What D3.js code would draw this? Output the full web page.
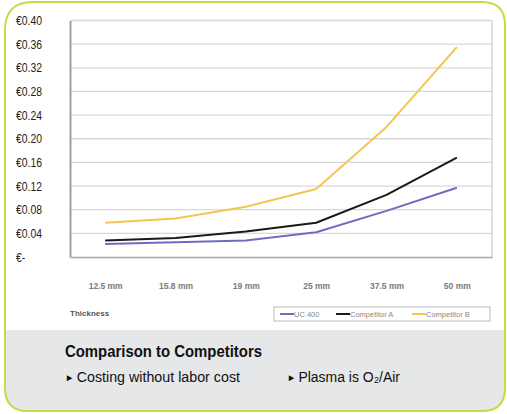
<!DOCTYPE html>
<html>
<head>
<meta charset="utf-8">
<script src="https://cdn.jsdelivr.net/npm/d3@7"></script>
<style>
  body { margin: 0; background: #fff; }
  svg { display: block; }
</style>
</head>
<body>
<svg id="chart" width="507" height="414"></svg>
<script>
// data
const thickness = ["12.5 mm", "15.8 mm", "19 mm", "25 mm", "37.5 mm", "50 mm"];
const uc400 = [0.022, 0.025, 0.028, 0.042, 0.078, 0.117];
const competitorA = [0.028, 0.032, 0.043, 0.058, 0.105, 0.168];
const competitorB = [0.058, 0.065, 0.085, 0.115, 0.220, 0.355];
const yTicks = [0, 0.04, 0.08, 0.12, 0.16, 0.20, 0.24, 0.28, 0.32, 0.36, 0.40];

const series = [
  { name: "UC 400", values: uc400, color: "#6c6cc4" },
  { name: "Competitor A", values: competitorA, color: "#1a1a1a" },
  { name: "Competitor B", values: competitorB, color: "#f3c552" }
];

const svg = d3.select("#chart");
const plotLeft = 70, plotRight = 492, plotTop = 20.5, plotBottom = 257;

// squeeze text horizontally to look like a condensed face
function condense(sel, f) {
  sel.each(function () {
    const w = this.getComputedTextLength();
    d3.select(this).attr("textLength", w * f).attr("lengthAdjust", "spacingAndGlyphs");
  });
}

// gray panel + rounded frame
const clip = svg.append("clipPath").attr("id", "frame");
const framePath = "M 5 30 Q 5 2 33 2 L 482 2 Q 505 2 505 25 L 505 388 Q 505 411 482 411 L 28 411 Q 5 411 5 388 Z";
clip.append("path").attr("d", framePath);
svg.append("rect").attr("x", 0).attr("y", 330).attr("width", 507).attr("height", 90)
  .attr("fill", "#e6e7e8").attr("clip-path", "url(#frame)");
svg.append("path").attr("d", framePath).attr("fill", "none")
  .attr("stroke", "#c6da4c").attr("stroke-width", 2);

const x = d3.scalePoint().domain(thickness).range([plotLeft, plotRight]).padding(0.5);
const y = d3.scaleLinear().domain([0, 0.40]).range([plotBottom, plotTop]);

// gridlines
svg.append("g").selectAll("line").data(yTicks.slice(1)).join("line")
  .attr("x1", plotLeft).attr("x2", plotRight)
  .attr("y1", d => y(d)).attr("y2", d => y(d))
  .attr("stroke", "#d8d8d8").attr("stroke-width", 1.3);
svg.append("line").attr("x1", plotRight).attr("x2", plotRight).attr("y1", plotTop).attr("y2", plotBottom)
  .attr("stroke", "#d4d4d4").attr("stroke-width", 1.5);

// y axis
const yAxis = svg.append("g").attr("transform", `translate(${plotLeft},0)`)
  .call(d3.axisLeft(y).tickValues(yTicks).tickSize(0)
    .tickFormat(d => d === 0 ? "€-" : "€" + d.toFixed(2)));
yAxis.select(".domain").attr("stroke", "#a0a0a0").attr("stroke-width", 2);
yAxis.selectAll("text").attr("x", -54).attr("text-anchor", "start")
  .attr("font-family", "Liberation Sans, Arial, sans-serif").attr("font-size", 13)
  .attr("fill", "#222").call(condense, 0.8);

// x axis
const xAxis = svg.append("g").attr("transform", `translate(0,${plotBottom})`)
  .call(d3.axisBottom(x).tickSize(0).tickPadding(26));
xAxis.select(".domain").attr("stroke", "#a8a8a8").attr("stroke-width", 1.5);
xAxis.selectAll("text").attr("font-family", "Liberation Sans, Arial, sans-serif")
  .attr("font-size", 8.5).attr("font-weight", "bold").attr("fill", "#7a7a7a");

// lines
const line = d3.line().x((d, i) => x(thickness[i])).y(d => y(d));
svg.append("g").selectAll("path").data(series).join("path")
  .attr("d", d => line(d.values)).attr("fill", "none")
  .attr("stroke", d => d.color).attr("stroke-width", 2).attr("stroke-linejoin", "round");

// axis title
svg.append("text").attr("x", 70).attr("y", 316).text("Thickness")
  .attr("font-family", "Liberation Sans, Arial, sans-serif").attr("font-size", 8)
  .attr("font-weight", "bold").attr("fill", "#555");

// legend
const lg = svg.append("g").attr("transform", "translate(274,307)");
lg.append("rect").attr("width", 216).attr("height", 14).attr("fill", "#fff")
  .attr("stroke", "#bbb").attr("stroke-width", 1);
const lgX = [6, 62, 138];
series.forEach((s, i) => {
  lg.append("line").attr("x1", lgX[i]).attr("x2", lgX[i] + 14).attr("y1", 7).attr("y2", 7)
    .attr("stroke", s.color).attr("stroke-width", 2);
  lg.append("text").attr("x", lgX[i] + 14).attr("y", 10).text(s.name)
    .attr("font-family", "Liberation Sans, Arial, sans-serif").attr("font-size", 7.5)
    .attr("fill", "#888");
});

// caption
const cond = "Liberation Sans, Arial, sans-serif";
svg.append("text").attr("x", 65).attr("y", 357).text("Comparison to Competitors")
  .attr("font-family", cond).attr("font-size", 16).attr("font-weight", "bold")
  .attr("fill", "#111").attr("textLength", 197).attr("lengthAdjust", "spacingAndGlyphs");
const t1 = svg.append("text").attr("x", 65).attr("y", 382)
  .attr("font-family", cond).attr("font-size", 15.5).attr("fill", "#111")
  .attr("textLength", 175).attr("lengthAdjust", "spacingAndGlyphs");
t1.append("tspan").attr("font-size", 10).attr("dy", -1).text("► ");
t1.append("tspan").attr("dy", 1).text("Costing without labor cost");
const t2 = svg.append("text").attr("x", 287).attr("y", 382)
  .attr("font-family", cond).attr("font-size", 15.5).attr("fill", "#111")
  .attr("textLength", 113).attr("lengthAdjust", "spacingAndGlyphs");
t2.append("tspan").attr("font-size", 10).attr("dy", -1).text("► ");
t2.append("tspan").attr("dy", 1).text("Plasma is O₂/Air");
</script>
</body>
</html>
